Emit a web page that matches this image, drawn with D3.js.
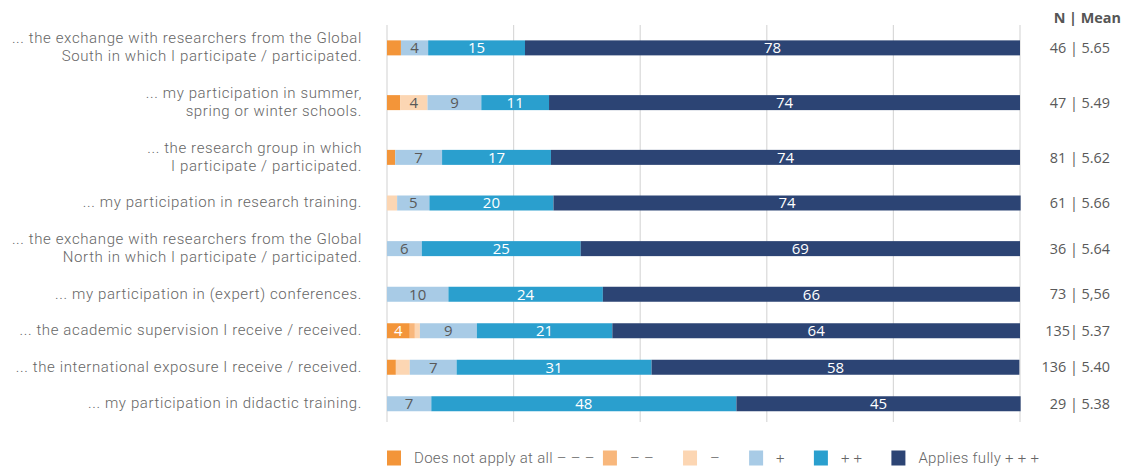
<!DOCTYPE html>
<html>
<head>
<meta charset="utf-8">
<script src="https://cdn.jsdelivr.net/npm/d3@7"></script>
<style>
  html, body { margin: 0; padding: 0; background: #fff; }
  svg { display: block; }
  text { font-family: "Open Sans", Roboto, "Liberation Sans", sans-serif; }
  text.lab { font-family: Roboto, "Open Sans", "Liberation Sans", sans-serif; }
</style>
</head>
<body>
<svg id="chart" width="1126" height="467"></svg>
<script>
// ---------- data ----------
const categories = [
  "... the exchange with researchers from the Global\nSouth in which I participate / participated.",
  "... my participation in summer,\nspring or winter schools.",
  "... the research group in which\nI participate / participated.",
  "... my participation in research training.",
  "... the exchange with researchers from the Global\nNorth in which I participate / participated.",
  "... my participation in (expert) conferences.",
  "... the academic supervision I receive / received.",
  "... the international exposure I receive / received.",
  "... my participation in didactic training."
];
const seriesNames = ["Does not apply at all \u2013 \u2013 \u2013", "\u2013 \u2013", "\u2013", "+", "+ +", "Applies fully + + +"];
const doesNotApply = [2.2, 2.1, 1.3, 0, 0, 0, 3.6, 1.4, 0];
const minus2       = [0, 0, 0, 0, 0, 0, 0.8, 0, 0];
const minus1       = [0, 4.3, 0, 1.6, 0, 0, 0.8, 2.2, 0];
const plus1        = [4.3, 8.5, 7.4, 5.1, 5.5, 9.7, 9.0, 7.4, 7.0];
const plus2        = [15.3, 10.7, 17.2, 19.6, 25.1, 24.4, 21.4, 30.8, 48.2];
const appliesFully = [78.2, 74.4, 74.1, 73.8, 69.4, 65.9, 64.4, 58.1, 44.9];
const nMeanHeader = "N | Mean";
const nMeanLabels = ["46 | 5.65", "47 | 5.49", "81 | 5.62", "61 | 5.66", "36 | 5.64", "73 | 5,56", "135| 5.37", "136 | 5.40", "29 | 5.38"];
const xTicks = [0, 20, 40, 60, 80, 100];

// ---------- style ----------
const colors = ["#F39539", "#F8B77C", "#FCD6B3", "#A8CBE6", "#2A9FCE", "#2C4474"];
const labelColors = ["#ffffff", "#595959", "#595959", "#595959", "#ffffff", "#ffffff"];
const textGray = "#666666";
const fsLabel = 15;
const lsLabel = 0.62;
const lsLegend = 0.3;
const fsRight = 14.4;

const svg = d3.select("#chart");
const plotLeft = 387, plotRight = 1020, plotTop = 20.5, plotBottom = 422;
const barH = 15;

const x = d3.scaleLinear().domain([0, 100]).range([plotLeft, plotRight]);

// vertical layout: rows with two-line labels get more room
const lines = categories.map(c => c.split("\n").length);
const weights = lines.map(l => 1 + 0.5 * (l - 1));
const cum = [0];
weights.forEach(w => cum.push(cum[cum.length - 1] + w));
const yU = d3.scaleLinear().domain([0, cum[cum.length - 1]]).range([plotTop, plotBottom]);
const yCenter = i => yU(cum[i] + weights[i] / 2);

// gridlines
svg.append("g").selectAll("line").data(xTicks).join("line")
  .attr("x1", d => x(d)).attr("x2", d => x(d))
  .attr("y1", 25).attr("y2", plotBottom)
  .attr("stroke", "#d9d9d9").attr("stroke-width", 1.2);

// stack
const seriesArrays = [doesNotApply, minus2, minus1, plus1, plus2, appliesFully];
const rows = categories.map((c, i) => {
  const o = { i };
  seriesArrays.forEach((arr, k) => o["s" + k] = arr[i]);
  return o;
});
const keys = seriesArrays.map((_, k) => "s" + k);
const stacked = d3.stack().keys(keys)(rows);

const gBars = svg.append("g");
stacked.forEach((layer, k) => {
  gBars.append("g").attr("fill", colors[k]).selectAll("rect").data(layer).join("rect")
    .attr("x", d => x(d[0]))
    .attr("width", d => Math.max(0, x(d[1]) - x(d[0])))
    .attr("y", (d, i) => yCenter(i) - barH / 2)
    .attr("height", barH);
  gBars.append("g").selectAll("text").data(layer.filter(d => d[1] - d[0] >= 3)).join("text")
    .attr("x", d => (x(d[0]) + x(d[1])) / 2)
    .attr("y", d => yCenter(d.data.i))
    .attr("dy", "0.36em")
    .attr("text-anchor", "middle")
    .attr("font-size", 15)
    .attr("fill", labelColors[k])
    .text(d => Math.round(d[1] - d[0]));
});

// category labels
const gCat = svg.append("g");
categories.forEach((c, i) => {
  const ls = c.split("\n");
  const lh = 17.8;
  ls.forEach((l, j) => {
    gCat.append("text")
      .attr("class", "lab")
      .attr("text-anchor", "end")
      .attr("font-size", fsLabel)
      .attr("font-weight", 300)
      .attr("letter-spacing", lsLabel)
      .attr("fill", textGray)
      .attr("x", 362)
      .attr("y", yCenter(i) - 1 + (j - (ls.length - 1) / 2) * lh)
      .attr("dy", "0.36em")
      .text(l);
  });
});

// N | Mean column
svg.append("text")
  .attr("x", 1121).attr("y", 18).attr("dy", "0.36em")
  .attr("text-anchor", "end")
  .attr("font-size", fsRight).attr("font-weight", 700)
  .attr("fill", "#555")
  .text(nMeanHeader);
svg.append("g").selectAll("text").data(nMeanLabels).join("text")
  .attr("x", 1110)
  .attr("y", (d, i) => yCenter(i))
  .attr("dy", "0.36em")
  .attr("text-anchor", "end")
  .attr("font-size", fsRight)
  .attr("fill", "#595959")
  .text(d => d);

// legend
const gLeg = svg.append("g");
let lx = plotLeft;
const ly = 457.5;
seriesNames.forEach((name, k) => {
  gLeg.append("rect")
    .attr("x", lx).attr("y", ly - 7).attr("width", 14).attr("height", 15)
    .attr("fill", colors[k]);
  const t = gLeg.append("text")
    .attr("class", "lab")
    .attr("x", lx + 27).attr("y", ly).attr("dy", "0.36em")
    .attr("font-size", fsLabel).attr("font-weight", 300)
    .attr("letter-spacing", lsLegend)
    .attr("fill", textGray)
    .text(name);
  const w = t.node().getComputedTextLength();
  lx = lx + 27 + w + (k === 0 ? 8 : 29);
});
</script>
</body>
</html>
